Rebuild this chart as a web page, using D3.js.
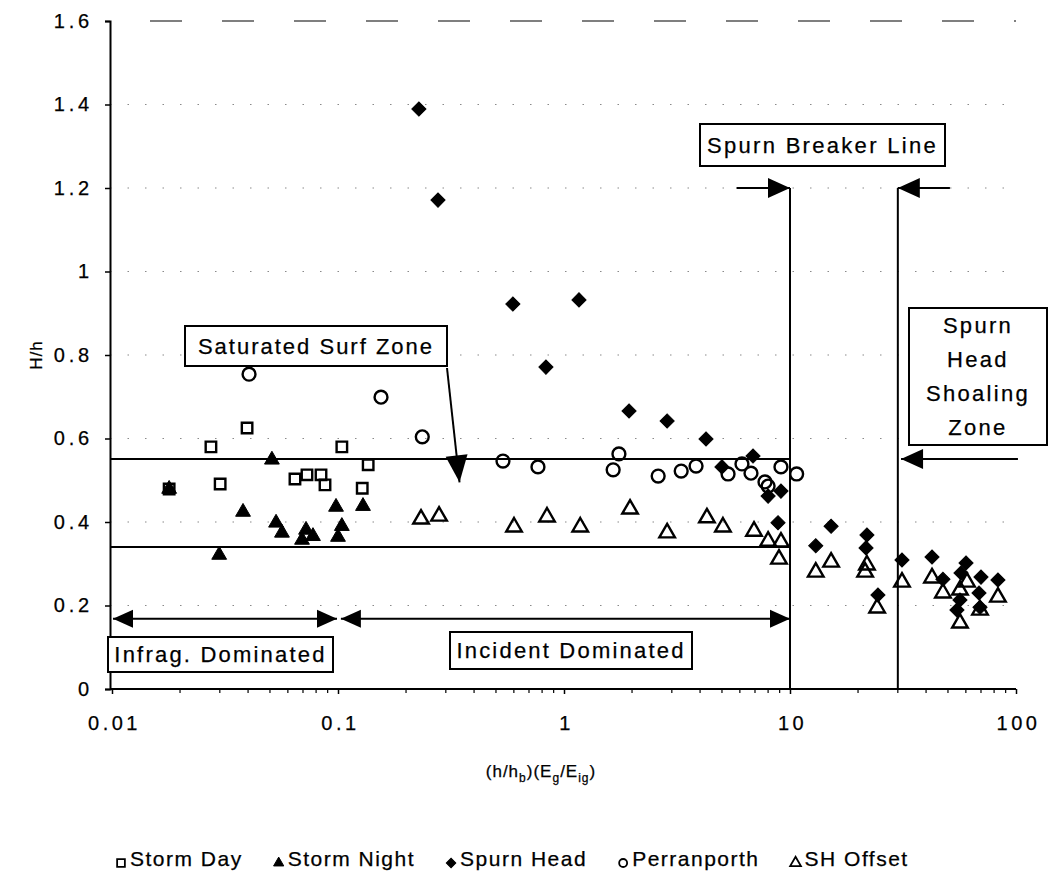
<!DOCTYPE html>
<html><head><meta charset="utf-8">
<script src="https://cdn.jsdelivr.net/npm/d3@7"></script>
<style>
body{margin:0;background:#fff}
svg{display:block}
text{font-family:"Liberation Sans",Arial,sans-serif;fill:#000;stroke:#000;stroke-width:0.25px}
</style>
</head><body>
<svg id="c" width="1050" height="877"></svg>
<script>
// ---------------- data ----------------
const xTickValues = [0.01, 0.1, 1, 10, 100];
const xTickLabels = ["0.01", "0.1", "1", "10", "100"];
const yTickValues = [0, 0.2, 0.4, 0.6, 0.8, 1, 1.2, 1.4, 1.6];
const yTickLabels = ["0", "0.2", "0.4", "0.6", "0.8", "1", "1.2", "1.4", "1.6"];

const stormDayX = [0.0179,0.0274,0.0301,0.0396,0.0645,0.0729,0.0841,0.0876,0.104,0.128,0.136];
const stormDayY = [0.479,0.580,0.491,0.625,0.503,0.513,0.513,0.489,0.580,0.481,0.537];

const stormNightX = [0.0179,0.0298,0.0380,0.0510,0.0532,0.0565,0.0693,0.0722,0.0775,0.098,0.104,0.100,0.129];
const stormNightY = [0.479,0.321,0.424,0.549,0.398,0.374,0.357,0.381,0.366,0.436,0.390,0.364,0.438];

const spurnHeadX = [0.228,0.277,0.594,0.832,1.165,1.94,2.86,4.25,5.00,6.86,8.0,9.12,8.85,13.0,15.2,21.9,21.7,24.5,31.3,42.5,47.5,60.1,57.1,56.5,54.8,70.0,68.6,83.2,69.3];
const spurnHeadY = [1.389,1.171,0.922,0.771,0.932,0.666,0.642,0.599,0.532,0.558,0.462,0.474,0.398,0.343,0.390,0.369,0.338,0.225,0.309,0.316,0.263,0.302,0.278,0.213,0.189,0.268,0.230,0.261,0.196];

const perranX = [0.0404,0.155,0.236,0.537,0.767,1.65,1.75,2.61,3.30,3.84,5.32,6.13,6.72,7.75,8.0,9.12,10.7];
const perranY = [0.754,0.699,0.604,0.546,0.532,0.525,0.563,0.510,0.522,0.534,0.515,0.539,0.517,0.496,0.486,0.532,0.515];

const shOffsetX = [0.233,0.280,0.601,0.841,1.18,1.96,2.86,4.29,5.05,6.93,8.0,9.12,8.94,13.0,15.2,21.5,21.9,24.3,31.3,42.5,47.5,56.5,60.7,56.5,69.3,83.2];
const shOffsetY = [0.407,0.414,0.388,0.412,0.388,0.431,0.374,0.410,0.388,0.378,0.354,0.352,0.311,0.280,0.304,0.280,0.297,0.194,0.256,0.266,0.230,0.237,0.256,0.158,0.189,0.220];

const seriesNames = ["Storm Day", "Storm Night", "Spurn Head", "Perranporth", "SH Offset"];

// zone boundaries (data units)
const surfUpper = 0.551, surfLower = 0.340;
const breakerX = 10, shoalX = 30, zoneTop = 1.2, regimeArrowY = 0.168;

// ---------------- layout ----------------
const svg = d3.select("#c");
const x = d3.scaleLog().domain([0.01, 100]).range([112, 1016]);
const y = d3.scaleLinear().domain([0, 1.6]).range([689, 21]);
const axisX = 110;

// gridlines
svg.append("g").selectAll("line").data(yTickValues.filter(v => v > 0 && v < 1.6)).join("line")
  .attr("x1", axisX).attr("x2", 1016).attr("y1", d => y(d)).attr("y2", d => y(d))
  .attr("stroke", "#8a8a8a").attr("stroke-width", 1.2).attr("stroke-dasharray", "1.5,16");
svg.append("line").attr("x1", 150).attr("x2", 1016).attr("y1", y(1.6)).attr("y2", y(1.6))
  .attr("stroke", "#555").attr("stroke-width", 1.3).attr("stroke-dasharray", "32,40");

// y axis
const yAxis = svg.append("g").attr("transform", `translate(${axisX},0)`)
  .call(d3.axisLeft(y).tickValues(yTickValues).tickSize(5).tickPadding(12)
    .tickFormat((d, i) => yTickLabels[i]));
yAxis.select(".domain").attr("stroke", "#000").attr("stroke-width", 2);
yAxis.selectAll(".tick line").attr("stroke", "#000").attr("stroke-width", 1.5);
yAxis.selectAll(".tick text").attr("font-size", 20).attr("letter-spacing", "3.8px")
  .attr("font-family", "Liberation Sans, Arial, sans-serif").attr("fill", "#000");

// x axis
const xAxis = svg.append("g").attr("transform", `translate(0,${y(0)})`)
  .call(d3.axisBottom(x).tickValues(xTickValues).tickSize(5).tickPadding(22)
    .tickFormat((d, i) => xTickLabels[i]));
xAxis.select(".domain").attr("stroke", "#000").attr("stroke-width", 2)
  .attr("d", `M${axisX},0H${x(100)}`);
xAxis.selectAll(".tick line").attr("stroke", "#000").attr("stroke-width", 1.5);
xAxis.selectAll(".tick text").attr("font-size", 20).attr("letter-spacing", "3.5px")
  .attr("font-family", "Liberation Sans, Arial, sans-serif").attr("fill", "#000")
  .attr("dx", "2px");
// minor ticks
const minor = [];
[0.01, 0.1, 1, 10].forEach(d => { for (let k = 2; k <= 9; k++) minor.push(d * k); });
svg.append("g").selectAll("line").data(minor).join("line")
  .attr("x1", d => x(d)).attr("x2", d => x(d)).attr("y1", y(0)).attr("y2", y(0) + 4)
  .attr("stroke", "#000").attr("stroke-width", 1.2);

// axis titles
svg.append("text").attr("transform", "translate(42,355) rotate(-90)").attr("text-anchor", "middle")
  .attr("font-size", 17).attr("letter-spacing", "1px").text("H/h");
const xt = svg.append("text").attr("x", 541).attr("y", 777).attr("text-anchor", "middle")
  .attr("font-size", 17).attr("letter-spacing", "1px");
xt.append("tspan").text("(h/h");
xt.append("tspan").attr("font-size", 12).attr("dy", 5).text("b");
xt.append("tspan").attr("dy", -5).text(")(E");
xt.append("tspan").attr("font-size", 12).attr("dy", 5).text("g");
xt.append("tspan").attr("dy", -5).text("/E");
xt.append("tspan").attr("font-size", 12).attr("dy", 5).text("ig");
xt.append("tspan").attr("dy", -5).text(")");

// ---------------- zone lines ----------------
const ann = svg.append("g").attr("stroke", "#000").attr("stroke-width", 2).attr("fill", "none");
[surfUpper, surfLower].forEach(v => {
  ann.append("line").attr("x1", axisX).attr("x2", x(breakerX)).attr("y1", y(v)).attr("y2", y(v));
});
[breakerX, shoalX].forEach(v => {
  ann.append("line").attr("x1", x(v)).attr("x2", x(v)).attr("y1", y(zoneTop)).attr("y2", y(0));
});

function arrowHead(tx, ty, ang, len = 22, hw = 10) {
  const bx = tx - len * Math.cos(ang), by = ty - len * Math.sin(ang);
  const px = -Math.sin(ang) * hw, py = Math.cos(ang) * hw;
  svg.append("path").attr("d", `M${tx},${ty}L${bx + px},${by + py}L${bx - px},${by - py}Z`).attr("fill", "#000");
}
function arrow(x1, y1, x2, y2, both = false, len = 22, hw = 10) {
  ann.append("line").attr("x1", x1).attr("y1", y1).attr("x2", x2).attr("y2", y2);
  const a = Math.atan2(y2 - y1, x2 - x1);
  arrowHead(x2, y2, a, len, hw);
  if (both) arrowHead(x1, y1, a + Math.PI, len, hw);
}

// breaker arrows
arrow(x(5.8), y(zoneTop), x(breakerX), y(zoneTop), false, 22, 10);
arrow(x(51), y(zoneTop), x(shoalX), y(zoneTop), false, 22, 10);
// shoaling arrow
arrow(x(102), y(surfUpper), x(31), y(surfUpper), false, 22, 10);
// regime arrows
arrow(x(0.0101), y(regimeArrowY), x(0.099), y(regimeArrowY), true, 20, 9);
arrow(x(0.103), y(regimeArrowY), x(breakerX), y(regimeArrowY), true, 20, 9);
// surf zone arrow
arrow(447, 368, x(0.345), y(0.495), false, 27, 11);

// ---------------- boxes ----------------
function box(x0, y0, x1, y1, lines, fs, ls, lineH) {
  svg.append("rect").attr("x", x0).attr("y", y0).attr("width", x1 - x0).attr("height", y1 - y0)
    .attr("fill", "#fff").attr("stroke", "#000").attr("stroke-width", 2);
  const cx = (x0 + x1) / 2, cy = (y0 + y1) / 2;
  lines.forEach((t, i) => {
    svg.append("text").attr("x", cx).attr("y", cy + (i - (lines.length - 1) / 2) * lineH)
      .attr("dy", "0.36em").attr("text-anchor", "middle").attr("font-size", fs)
      .attr("letter-spacing", ls).text(t);
  });
}
box(185, 326, 447, 366, ["Saturated Surf Zone"], 22, "2px", 0);
box(700, 124, 945, 166, ["Spurn Breaker Line"], 22, "2.3px", 0);
box(909, 308, 1047, 445, ["Spurn", "Head", "Shoaling", "Zone"], 22, "2.3px", 34);
box(108, 637, 333, 672, ["Infrag. Dominated"], 22, "2.2px", 0);
box(450, 632, 692, 669, ["Incident Dominated"], 22, "2.2px", 0);

// ---------------- markers ----------------
const sq = d3.symbol().type(d3.symbolSquare);
const tri = d3.symbol().type(d3.symbolTriangle);
const circ = d3.symbol().type(d3.symbolCircle);
const pts = (xs, ys) => xs.map((v, i) => [v, ys[i]]);

const marks = svg.append("g");
function plot(data, symGen, size, filled, rot) {
  marks.append("g").selectAll("path").data(data).join("path")
    .attr("transform", d => `translate(${x(d[0])},${y(d[1])})${rot ? " rotate(45)" : ""}`)
    .attr("d", symGen.size(size)())
    .attr("fill", filled ? "#000" : "none")
    .attr("stroke", "#000").attr("stroke-width", filled ? 1 : 2.4);
}
plot(pts(stormDayX, stormDayY), sq, 110, false, false);
plot(pts(stormNightX, stormNightY), tri, 95, true, false);
plot(pts(spurnHeadX, spurnHeadY), sq, 100, true, true);
plot(pts(perranX, perranY), circ, 130, false, false);
plot(pts(shOffsetX, shOffsetY), tri, 105, false, false);

// ---------------- legend ----------------
const legendSyms = [
  {g: sq, size: 60, filled: false, rot: false},
  {g: tri, size: 45, filled: true, rot: false},
  {g: sq, size: 45, filled: true, rot: true},
  {g: circ, size: 50, filled: false, rot: false},
  {g: tri, size: 50, filled: false, rot: false}
];
const lg = svg.append("g");
let lx = 117;
const ly = 866;
seriesNames.forEach((name, i) => {
  const s = legendSyms[i];
  lg.append("path").attr("transform", `translate(${lx + 4},${ly - 3})${s.rot ? " rotate(45)" : ""}`)
    .attr("d", s.g.size(s.size)()).attr("fill", s.filled ? "#000" : "none")
    .attr("stroke", "#000").attr("stroke-width", s.filled ? 1 : 1.8);
  const t = lg.append("text").attr("x", lx + 13).attr("y", ly).attr("font-size", 21)
    .attr("letter-spacing", "1.5px").text(name);
  lx += 13 + t.node().getComputedTextLength() + 32;
});
</script>
</body></html>
